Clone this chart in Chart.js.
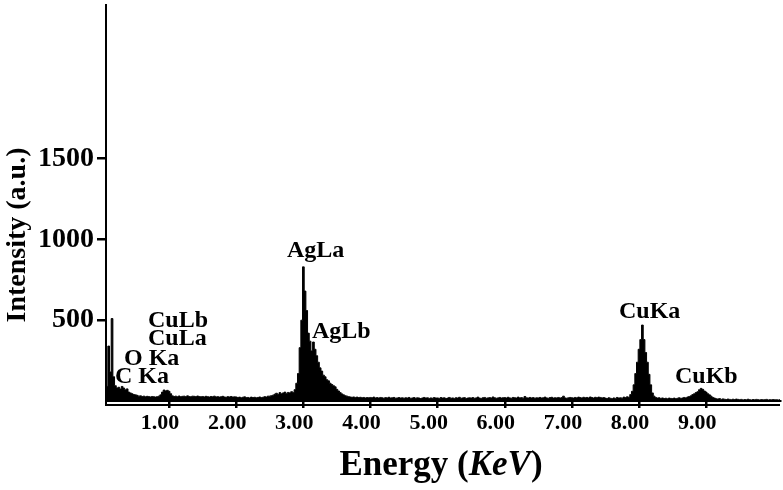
<!DOCTYPE html>
<html>
<head>
<meta charset="utf-8">
<script src="https://cdn.jsdelivr.net/npm/chart.js@4.4.1/dist/chart.umd.min.js"></script>
<style>
  html, body { margin: 0; padding: 0; background: #fff; }
  #wrap { width: 783px; height: 490px; }
</style>
</head>
<body>
<div id="wrap"><canvas id="eds" width="783" height="490"></canvas></div>
<script>
/* ── EDS spectrum data (channel width 0.025 keV, first channel 0 keV) ── */
const E_START = 0;
const E_STEP  = 0.025;

const counts = [
  // 0.00 – 0.475
  0, 60, 85, 90, 340, 180, 510, 150, 95, 80, 85, 75, 90, 80, 70, 75, 55, 50, 45, 40,
  // 0.50 – 0.975
  38, 35, 30, 32, 28, 30, 26, 29, 27, 25, 28, 26, 24, 27, 30, 38, 55, 68, 62, 66,
  // 1.00 – 1.475
  60, 45, 32, 28, 30, 27, 31, 26, 29, 30, 27, 32, 28, 26, 30, 29, 27, 31, 28, 26,
  // 1.50 – 1.975
  28, 25, 29, 27, 24, 28, 26, 30, 25, 27, 24, 26, 29, 25, 23, 27, 25, 28, 24, 26,
  // 2.00 – 2.475
  25, 22, 24, 20, 23, 26, 21, 22, 19, 24, 21, 23, 20, 22, 25, 21, 23, 27, 24, 30,
  // 2.50 – 2.975
  30, 33, 36, 42, 48, 40, 52, 45, 50, 55, 47, 53, 50, 58, 52, 70, 110, 170, 330, 500,
  // 3.00 – 3.475
  830, 680, 560, 420, 370, 310, 365, 320, 280, 240, 205, 185, 160, 150, 132, 125, 110, 102, 95, 88,
  // 3.50 – 3.975
  72, 62, 52, 44, 38, 33, 30, 27, 25, 23, 25, 22, 24, 21, 23, 20, 22, 19, 21, 20,
  // 4.00 – 4.475
  22, 20, 24, 19, 21, 18, 22, 20, 17, 21, 19, 23, 18, 20, 22, 17, 19, 21, 18, 20,
  // 4.50 – 4.975
  17, 20, 18, 22, 16, 19, 21, 17, 20, 18, 15, 19, 22, 18, 20, 16, 19, 17, 21, 18,
  // 5.00 – 5.475
  19, 16, 21, 18, 20, 15, 18, 22, 17, 19, 16, 20, 18, 23, 17, 19, 21, 16, 18, 20,
  // 5.50 – 5.975
  18, 21, 17, 19, 24, 18, 16, 20, 22, 17, 19, 21, 18, 25, 20, 17, 19, 22, 18, 20,
  // 6.00 – 6.475
  21, 18, 23, 19, 17, 22, 20, 18, 24, 19, 21, 17, 28, 20, 18, 22, 19, 21, 17, 20,
  // 6.50 – 6.975
  19, 22, 18, 20, 24, 19, 17, 21, 23, 18, 20, 19, 22, 18, 21, 30, 19, 17, 20, 22,
  // 7.00 – 7.475
  20, 18, 22, 19, 24, 21, 18, 23, 20, 22, 19, 25, 21, 18, 23, 20, 24, 22, 19, 21,
  // 7.50 – 7.975
  18, 15, 20, 17, 14, 19, 16, 22, 18, 20, 17, 24, 21, 26, 23, 40, 60, 100, 170, 240,
  // 8.00 – 8.475
  320, 380, 470, 380, 300, 240, 165, 100, 50, 30, 22, 18, 20, 16, 19, 15, 17, 14, 18, 16,
  // 8.50 – 8.975
  15, 18, 14, 17, 20, 16, 19, 22, 18, 25, 28, 32, 40, 45, 52, 58, 70, 78, 72, 62,
  // 9.00 – 9.475
  55, 45, 38, 30, 22, 18, 14, 12, 15, 10, 13, 11, 9, 12, 10, 8, 11, 9, 12, 10,
  // 9.50 – 9.975
  8, 10, 6, 9, 7, 11, 8, 6, 9, 7, 10, 8, 6, 9, 7, 8, 10, 6, 8, 7,
  // 10.00 – 10.10
  9, 7, 8, 6, 8
];

/* ── Axis ticks ── */
const xTicks = [1, 2, 3, 4, 5, 6, 7, 8, 9];
const yTicks = [500, 1000, 1500];

/* ── Peak labels (anchor: energy keV, intensity at text baseline) ── */
const peakNames = ['C Ka', 'O Ka', 'CuLa', 'CuLb', 'AgLa', 'AgLb', 'CuKa', 'CuKb'];
const peakE     = [0.194, 0.328, 0.685, 0.685, 2.756, 3.128, 7.702, 8.536];
const peakI     = [111, 223, 346, 458, 891, 390, 514, 111];

const SERIF = '"Liberation Serif", "Times New Roman", serif';

const points = counts.map((c, i) => ({ x: E_START + i * E_STEP, y: c }));

/* ── Custom drawing: double x axis, titles, peak labels ── */
const decor = {
  id: 'decor',
  afterDraw(chart) {
    const { ctx, chartArea: a, scales } = chart;
    ctx.save();
    ctx.strokeStyle = '#000';
    ctx.fillStyle = '#000';

    // second x axis line + y axis extension
    ctx.lineWidth = 2;
    ctx.beginPath();
    ctx.moveTo(a.left - 1, a.bottom + 4);
    ctx.lineTo(a.right, a.bottom + 4);
    ctx.moveTo(a.left, a.bottom);
    ctx.lineTo(a.left, a.bottom + 5);
    ctx.stroke();

    // peak labels
    ctx.font = 'bold 24px ' + SERIF;
    ctx.textAlign = 'left';
    ctx.textBaseline = 'alphabetic';
    peakNames.forEach((name, i) => {
      ctx.fillText(name, scales.x.getPixelForValue(peakE[i]), scales.y.getPixelForValue(peakI[i]));
    });

    // x title: Energy (KeV) with italic KeV
    const parts = [
      ['Energy (', 'bold 35px '],
      ['KeV', 'italic bold 35px '],
      [')', 'bold 35px ']
    ];
    let total = 0;
    parts.forEach(p => { ctx.font = p[1] + SERIF; total += ctx.measureText(p[0]).width; });
    let x = (a.left + a.right) / 2 - total / 2 - 2;
    parts.forEach(p => {
      ctx.font = p[1] + SERIF;
      ctx.fillText(p[0], x, 475);
      x += ctx.measureText(p[0]).width;
    });

    // y title
    ctx.translate(18, 235);
    ctx.rotate(-Math.PI / 2);
    ctx.font = 'bold 28px ' + SERIF;
    ctx.textAlign = 'center';
    ctx.textBaseline = 'middle';
    ctx.fillText('Intensity (a.u.)', 0, 0);
    ctx.restore();
  }
};

new Chart(document.getElementById('eds'), {
  type: 'line',
  data: {
    datasets: [{
      data: points,
      stepped: 'middle',
      fill: 'origin',
      backgroundColor: '#000',
      borderColor: '#000',
      borderWidth: 1,
      pointRadius: 0
    }]
  },
  options: {
    responsive: false,
    animation: false,
    devicePixelRatio: 1,
    layout: { padding: { top: 5, right: 3, left: 0, bottom: 0 } },
    plugins: { legend: { display: false }, tooltip: { enabled: false } },
    scales: {
      x: {
        type: 'linear',
        min: 0.06,
        max: 10.1,
        afterBuildTicks: s => { s.ticks = xTicks.map(v => ({ value: v })); },
        afterFit: s => { s.height = 89; s.paddingLeft = 0; s.paddingRight = 0; },
        ticks: {
          color: '#000',
          font: { family: SERIF, size: 22, weight: 'bold' },
          padding: 2,
          labelOffset: -9,
          maxRotation: 0,
          callback: v => v.toFixed(2)
        },
        grid: { drawOnChartArea: false, drawTicks: true, tickLength: 7, color: '#000', lineWidth: 2.5 },
        border: { display: true, color: '#000', width: 2 }
      },
      y: {
        min: 0,
        max: 2450,
        afterBuildTicks: s => { s.ticks = yTicks.map(v => ({ value: v })); },
        afterFit: s => { s.width = 106; s.paddingTop = 0; s.paddingBottom = 0; },
        ticks: {
          color: '#000',
          font: { family: SERIF, size: 28, weight: 'bold' },
          padding: 3,
          callback: v => String(v)
        },
        grid: { drawOnChartArea: false, drawTicks: true, tickLength: 9, color: '#000', lineWidth: 2.5 },
        border: { display: true, color: '#000', width: 2 }
      }
    }
  },
  plugins: [decor]
});
</script>
</body>
</html>
